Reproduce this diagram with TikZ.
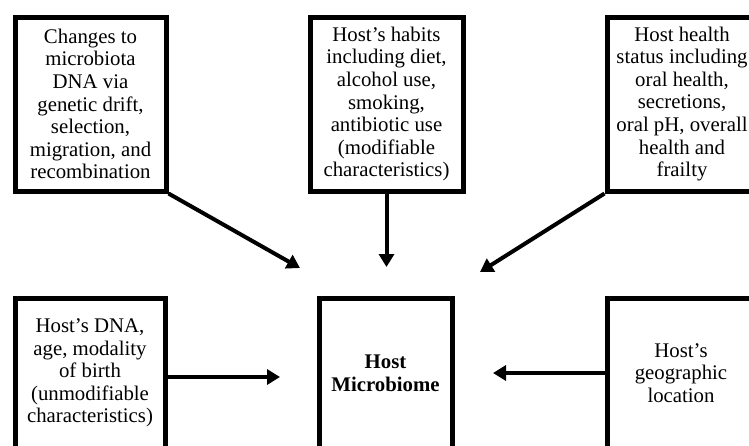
\documentclass[tikz,border=0pt]{standalone}
\usepackage{fontspec}
\setmainfont{Liberation Serif}
\usetikzlibrary{arrows.meta}

\begin{document}
\begin{tikzpicture}[
  x=1pt, y=-1pt,
  hmbox/.style = {draw, line width=5pt, align=center, inner sep=0pt,
    font=\fontsize{20.8}{22.6}\selectfont},
  hmarrow/.style = {line width=4pt, -{Triangle[length=13pt, width=15pt]}}
]
  % visible region of the figure
  \clip (0,0) rectangle (749,445);
  % upper row
  \node[hmbox, minimum width=151, minimum height=174] (drift) at (90.5,104)
    {Changes to\\microbiota\\DNA via\\genetic drift,\\selection,\\migration, and\\recombination};
  \node[hmbox, minimum width=153, minimum height=174] (habits) at (386.5,104)
    {Host’s habits\\including diet,\\alcohol use,\\smoking,\\antibiotic use\\(modifiable\\characteristics)};
  \node[hmbox, minimum width=150, minimum height=174] (health) at (682,104)
    {Host health\\status including\\oral health,\\secretions,\\oral pH, overall\\health and\\frailty};
  % lower row
  \node[hmbox, minimum width=150, minimum height=150] (dna) at (90,373)
    {Host’s DNA,\\age, modality\\of birth\\(unmodifiable\\characteristics)};
  \node[hmbox, minimum width=133, minimum height=150] (micro) at (385.5,373)
    {\bfseries Host\\\bfseries Microbiome};
  \node[hmbox, minimum width=148, minimum height=150] (geo) at (681,373)
    {Host’s\\geographic\\location};
  % arrow tips
  \coordinate (tipdrift) at (300,268);
  \coordinate (tiphabits) at (386.5,267);
  \coordinate (tiphealth) at (480,272);
  \coordinate (tipdna) at (280,377);
  \coordinate (tipgeo) at (493,373);
  % arrows
  \draw[hmarrow] (drift.south east) -- (tipdrift);
  \draw[hmarrow] (habits.south) -- (tiphabits);
  \draw[hmarrow] (health.south west) -- (tiphealth);
  \draw[hmarrow] ([yshift=-4pt]dna.east) -- (tipdna);
  \draw[hmarrow] (geo.west) -- (tipgeo);
\end{tikzpicture}
\end{document}
